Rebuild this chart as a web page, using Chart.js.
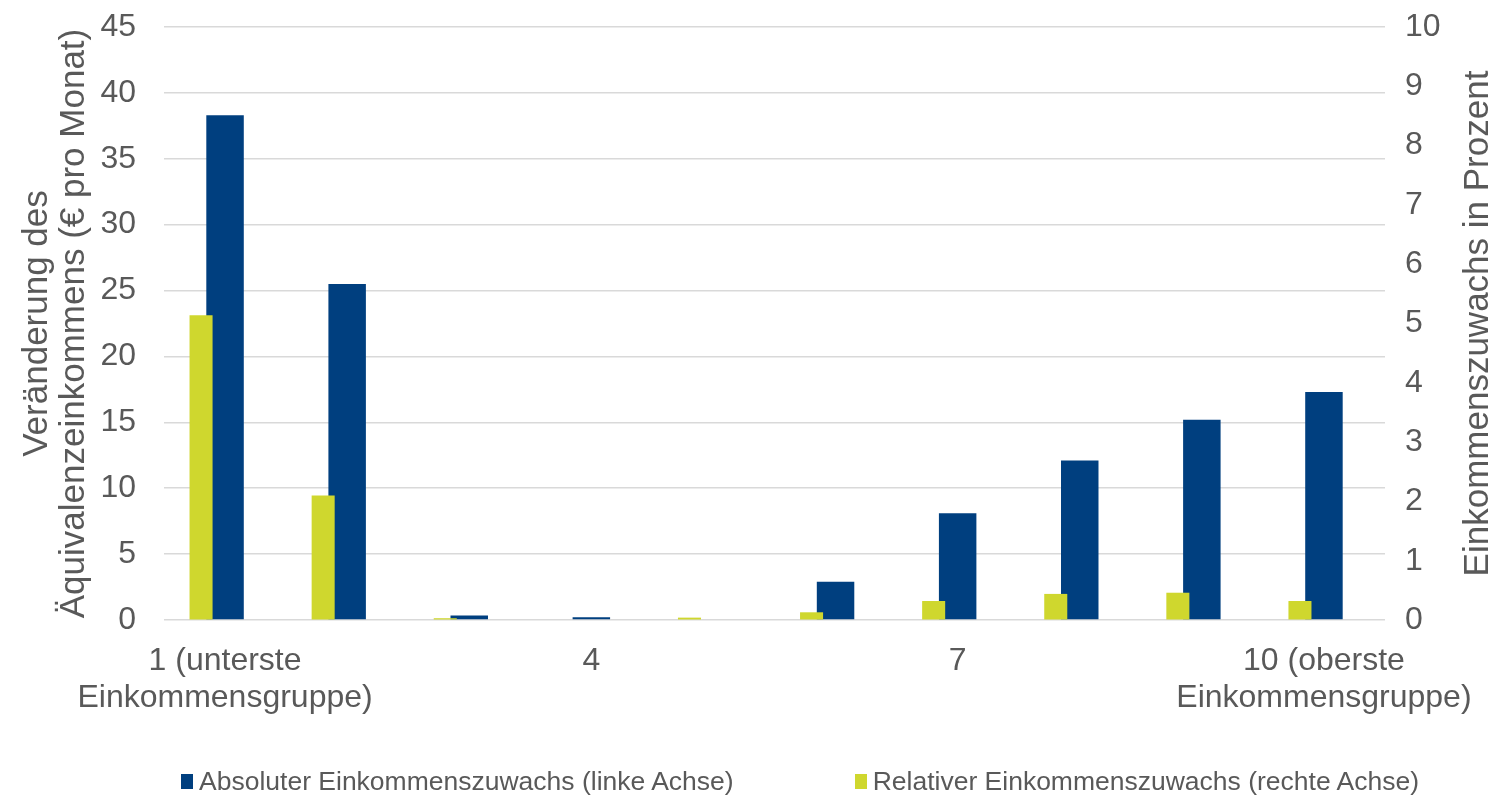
<!DOCTYPE html>
<html lang="de">
<head>
  <meta charset="UTF-8" />
  <title>Einkommenszuwachs nach Einkommensgruppe</title>
  <script src="https://cdn.jsdelivr.net/npm/chart.js"></script>
  <style>
    body {
      margin: 0;
      background: #fff;
      font-family: 'Liberation Sans', Arial, sans-serif;
    }
    .wrap {
      position: relative;
      width: 1496px;
      height: 797px;
    }
    #legend {
      position: absolute;
      left: 181px;
      top: 766px;
      display: flex;
      gap: 121px;
      font-size: 26.5px;
      line-height: 30px;
      color: #595959;
      white-space: nowrap;
    }
    #legend .item {
      display: flex;
      align-items: center;
    }
    #legend .box {
      width: 12px;
      height: 15px;
      margin-right: 6px;
    }
  </style>
</head>
<body>
  <div class="wrap">
    <canvas id="chart"></canvas>
    <div id="legend"></div>
  </div>

  <script>
    const groups = [
      ['1 (unterste', 'Einkommensgruppe)'], '2', '3', '4', '5', '6', '7', '8', '9',
      ['10 (oberste', 'Einkommensgruppe)']
    ];
    const absValues = [38.3, 25.5, 0.35, 0.2, 0.05, 2.9, 8.1, 12.1, 15.2, 17.3];
    const relValues = [5.14, 2.1, 0.03, 0, 0.04, 0.13, 0.32, 0.44, 0.46, 0.32];
    const leftTicks = [0, 45, 5];
    const rightTicks = [0, 10, 1];

    const navy = '#003f7f';
    const lime = '#cfd72e';
    const grey = '#595959';
    const font = 'Liberation Sans';

    const rightTitle = {
      id: 'rightTitle',
      afterDraw(chart) {
        const { ctx, chartArea } = chart;
        ctx.save();
        ctx.translate(1478, (chartArea.top + chartArea.bottom) / 2);
        ctx.rotate(-Math.PI / 2);
        ctx.font = '35px "' + font + '"';
        ctx.fillStyle = grey;
        ctx.textAlign = 'center';
        ctx.textBaseline = 'middle';
        ctx.fillText('Einkommenszuwachs in Prozent', 0, 0);
        ctx.restore();
      }
    };

    const chart = new Chart(document.getElementById('chart'), {
      type: 'bar',
      data: {
        labels: groups,
        datasets: [
          {
            label: 'Relativer Einkommenszuwachs (rechte Achse)',
            data: relValues,
            backgroundColor: lime,
            yAxisID: 'y2',
            categoryPercentage: 0.786,
            barPercentage: 0.48
          },
          {
            // leerer Platzhalter, damit die grünen Balken links sitzen
            label: '',
            data: relValues.map(() => null),
            yAxisID: 'y2',
            categoryPercentage: 0.786,
            barPercentage: 0.48
          },
          {
            label: 'Absoluter Einkommenszuwachs (linke Achse)',
            data: absValues,
            backgroundColor: navy,
            yAxisID: 'y',
            grouped: false,
            categoryPercentage: 1,
            barPercentage: 0.307
          }
        ]
      },
      options: {
        responsive: true,
        maintainAspectRatio: false,
        animation: false,
        layout: { padding: { top: 27, bottom: 0, left: 0, right: 0 } },
        plugins: {
          legend: { display: false },
          tooltip: { enabled: false }
        },
        scales: {
          x: {
            position: 'bottom',
            grid: { display: false },
            border: { display: false },
            ticks: {
              autoSkip: false,
              maxRotation: 0,
              padding: 15,
              color: grey,
              font: { family: font, size: 32, lineHeight: 1.15 },
              callback: (v, i) => (i % 3 === 0 ? groups[i] : '')
            },
            afterFit: s => { s.height = 177; }
          },
          y: {
            position: 'left',
            min: leftTicks[0],
            max: leftTicks[1],
            ticks: {
              stepSize: leftTicks[2],
              padding: 28,
              color: grey,
              font: { family: font, size: 32 }
            },
            grid: { color: '#d9d9d9', lineWidth: 1.5, drawTicks: false },
            border: { display: false },
            title: {
              display: true,
              text: ['Veränderung des', 'Äquivalenzeinkommens (€ pro Monat)'],
              color: grey,
              font: { family: font, size: 35, lineHeight: 1.057 },
              padding: { top: 19, bottom: 0 }
            },
            afterFit: s => { s.width = 164; s.paddingTop = 0; s.paddingBottom = 0; }
          },
          y2: {
            position: 'right',
            min: rightTicks[0],
            max: rightTicks[1],
            ticks: {
              stepSize: rightTicks[2],
              padding: 20,
              color: grey,
              font: { family: font, size: 32 }
            },
            grid: { drawOnChartArea: false, drawTicks: false },
            border: { display: false },
            afterFit: s => { s.width = 111; s.paddingTop = 0; s.paddingBottom = 0; }
          }
        }
      },
      plugins: [rightTitle]
    });

    // Legende: zuerst absolut, dann relativ
    const legend = document.getElementById('legend');
    [2, 0].forEach(i => {
      const ds = chart.data.datasets[i];
      const item = document.createElement('div');
      item.className = 'item';
      const box = document.createElement('span');
      box.className = 'box';
      box.style.background = ds.backgroundColor;
      const txt = document.createElement('span');
      txt.textContent = ds.label;
      item.appendChild(box);
      item.appendChild(txt);
      legend.appendChild(item);
    });
  </script>
</body>
</html>
